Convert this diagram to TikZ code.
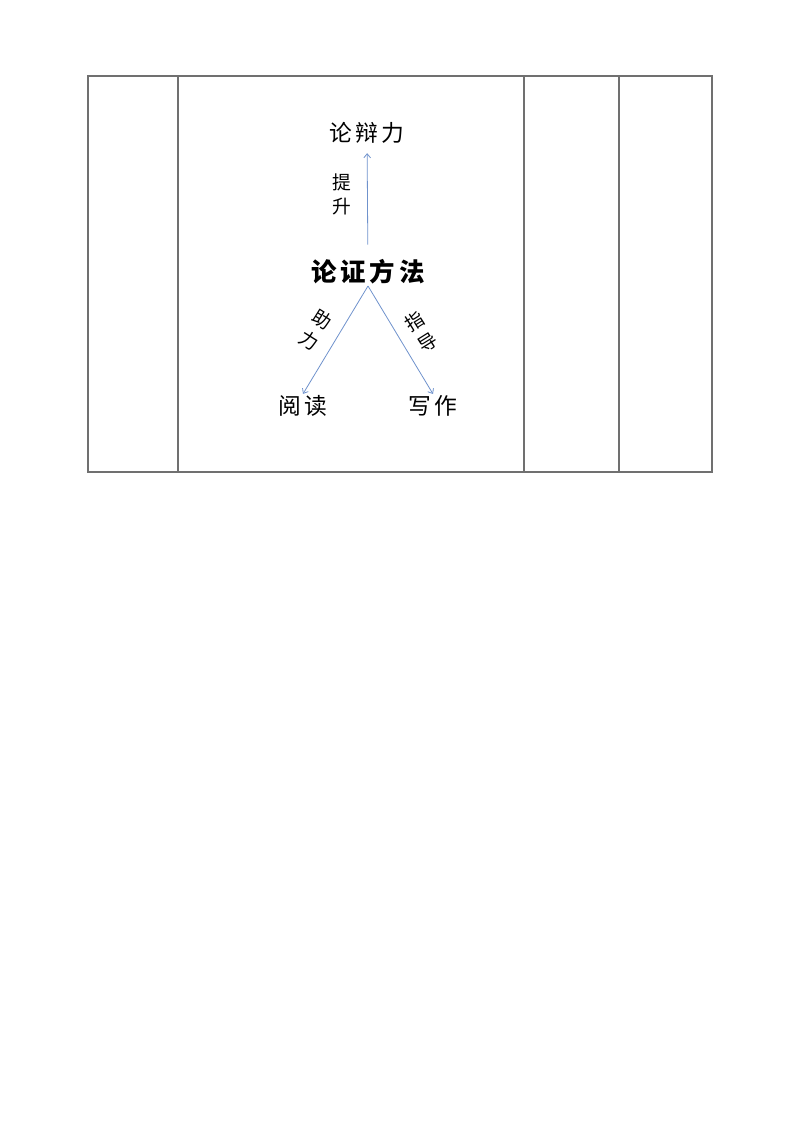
\documentclass[tikz,border=0pt]{standalone}
\usepackage{fontspec}
\newfontfamily\cjk[LetterSpace=15]{Noto Sans CJK SC}
\newfontfamily\cjktight{Noto Sans CJK SC}
\usetikzlibrary{arrows.meta, positioning}
\definecolor{arrowblue}{RGB}{111,146,204}
\definecolor{rulegray}{RGB}{112,112,112}

\begin{document}
\begin{tikzpicture}[x=0.02625cm, y=0.02625cm,
  word/.style={font=\cjk\fontsize{17}{17}\selectfont, inner sep=1pt},
  headword/.style={font=\cjk\fontsize{19}{19}\selectfont\bfseries, inner sep=1pt},
  edgetext/.style={font=\cjktight\fontsize{14}{18}\selectfont, align=center, inner sep=0pt},
  flow/.style={draw=arrowblue, line width=0.6pt, -{Straight Barb[length=3pt, width=5pt]}},
  rule/.style={draw=rulegray, line width=1.1pt}]
	  \useasboundingbox (0,0) rectangle (800,-1132);
	  % table frame
	  \draw[rule] (88,-76) rectangle (712,-472);
	  \draw[rule] (178,-76) -- (178,-472);
	  \draw[rule] (524,-76) -- (524,-472);
	  \draw[rule] (619,-76) -- (619,-472);
	  % diagram
	  \node at (367,-133) (power) [word]{论辩力};
	  \node at (368,-272) (method) [headword]{论证方法};
	  \node at (303,-406) (read) [word]{阅读};
	  \node at (433,-406) (write) [word]{写作};
	  \node at (342,-194) (lift) [edgetext]{提\\升};
	  \node at (316,-330) (assist) [edgetext,rotate=-32]{助\\力};
	  \node at (421,-332) (guide) [edgetext,rotate=32]{指\\导};
	  \draw[flow, shorten <=10pt, shorten >=6pt](method) -- (power);
	  \draw[flow](method.south) -- (read.north);
	  \draw[flow](method.south) -- (write.north);
	\end{tikzpicture}
\end{document}
